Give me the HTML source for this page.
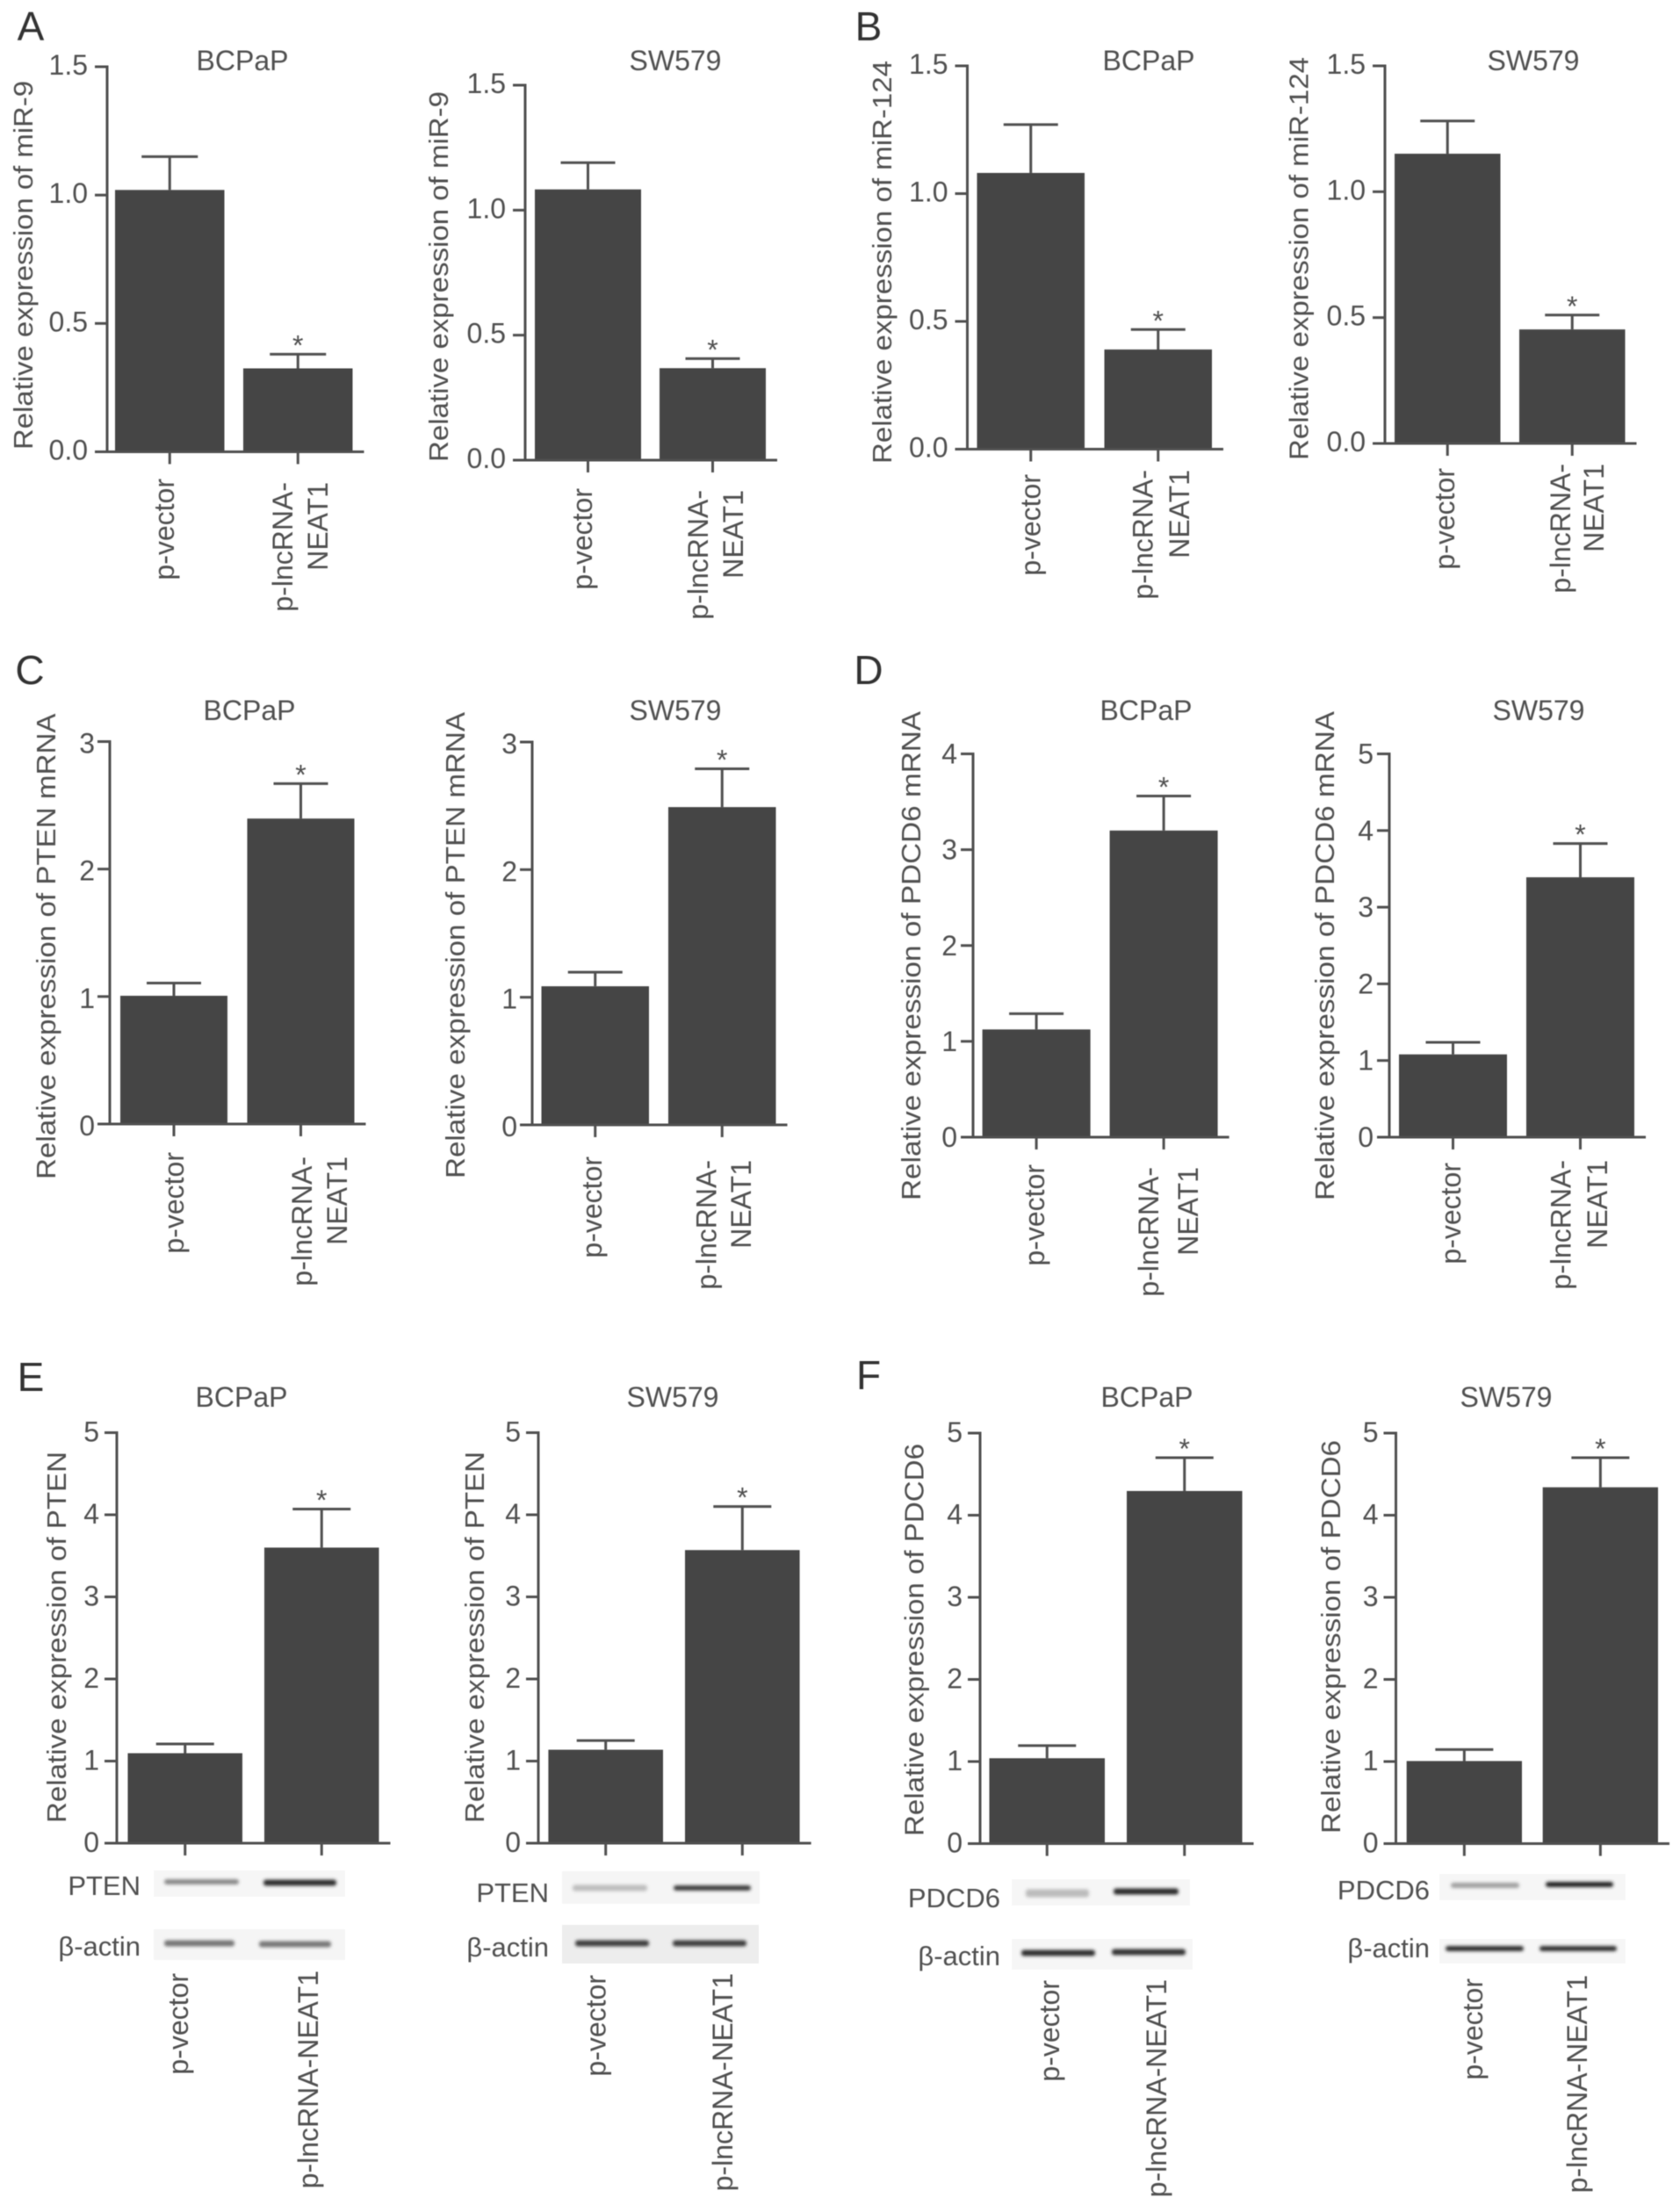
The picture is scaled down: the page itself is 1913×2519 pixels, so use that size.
<!DOCTYPE html>
<html lang="en">
<head>
<meta charset="utf-8">
<title>Relative expression bar charts</title>
<style>
html,body{margin:0;padding:0;background:#fff;}
body{width:1913px;height:2519px;overflow:hidden;}
svg{display:block;}
text{font-family:"Liberation Sans",sans-serif;fill:#505050;}
</style>
</head>
<body>
<svg id="figure" xmlns="http://www.w3.org/2000/svg" width="1913" height="2519" viewBox="0 0 1913 2519">
<defs>
<filter id="soft" x="-5%" y="-5%" width="110%" height="110%"><feGaussianBlur stdDeviation="0.55"/></filter>
<filter id="bandBlur" x="-10%" y="-80%" width="120%" height="260%"><feGaussianBlur stdDeviation="1.8"/></filter>
</defs>
<g id="root" filter="url(#soft)"></g>
</svg>
<script>
// ---- chart data ----
const twoLineCategories = [['p-vector'], ['p-lncRNA-', 'NEAT1']];
const oneLineCategories = [['p-vector'], ['p-lncRNA-NEAT1']];

const a1Ticks = [0, 0.5, 1, 1.5];
const a1TickLabels = ['0.0', '0.5', '1.0', '1.5'];
const a1Values = [1.02, 0.325];
const a1ErrorTops = [1.15, 0.38];

const a2Ticks = [0, 0.5, 1, 1.5];
const a2TickLabels = ['0.0', '0.5', '1.0', '1.5'];
const a2Values = [1.083, 0.368];
const a2ErrorTops = [1.19, 0.406];

const b1Ticks = [0, 0.5, 1, 1.5];
const b1TickLabels = ['0.0', '0.5', '1.0', '1.5'];
const b1Values = [1.081, 0.39];
const b1ErrorTops = [1.27, 0.468];

const b2Ticks = [0, 0.5, 1, 1.5];
const b2TickLabels = ['0.0', '0.5', '1.0', '1.5'];
const b2Values = [1.151, 0.453];
const b2ErrorTops = [1.281, 0.51];

const c1Ticks = [0, 1, 2, 3];
const c1TickLabels = ['0', '1', '2', '3'];
const c1Values = [1.006, 2.396];
const c1ErrorTops = [1.106, 2.67];

const c2Ticks = [0, 1, 2, 3];
const c2TickLabels = ['0', '1', '2', '3'];
const c2Values = [1.086, 2.49];
const c2ErrorTops = [1.196, 2.79];

const d1Ticks = [0, 1, 2, 3, 4];
const d1TickLabels = ['0', '1', '2', '3', '4'];
const d1Values = [1.124, 3.2];
const d1ErrorTops = [1.289, 3.56];

const d2Ticks = [0, 1, 2, 3, 4, 5];
const d2TickLabels = ['0', '1', '2', '3', '4', '5'];
const d2Values = [1.08, 3.39];
const d2ErrorTops = [1.237, 3.83];

const e1Ticks = [0, 1, 2, 3, 4, 5];
const e1TickLabels = ['0', '1', '2', '3', '4', '5'];
const e1Values = [1.096, 3.6];
const e1ErrorTops = [1.208, 4.07];

const e2Ticks = [0, 1, 2, 3, 4, 5];
const e2TickLabels = ['0', '1', '2', '3', '4', '5'];
const e2Values = [1.138, 3.57];
const e2ErrorTops = [1.25, 4.1];

const f1Ticks = [0, 1, 2, 3, 4, 5];
const f1TickLabels = ['0', '1', '2', '3', '4', '5'];
const f1Values = [1.04, 4.295];
const f1ErrorTops = [1.194, 4.7];

const f2Ticks = [0, 1, 2, 3, 4, 5];
const f2TickLabels = ['0', '1', '2', '3', '4', '5'];
const f2Values = [1.006, 4.34];
const f2ErrorTops = [1.146, 4.7];

const significance = [false, true];

// ---- layout (separate from the data) ----
const panelLetters = [
  {t:'A', x:35, y:46}, {t:'B', x:989, y:46}, {t:'C', x:34, y:779},
  {t:'D', x:989, y:779}, {t:'E', x:35, y:1584}, {t:'F', x:989, y:1582}
];

const tickLabelNudge = {a:[-22,-2], b:[-22,-2], c:[-17,2], d:[-18,0], e:[-20,-1], f:[-20,-1]};

const plots = [
 {id:'a1', title:'BCPaP', tx:276, ty:80, yTitle:'Relative expression of miR-9', ytx:37, ytTop:92, ytBot:512,
  ticks:a1Ticks, labels:a1TickLabels, values:a1Values, errs:a1ErrorTops, cats:twoLineCategories,
  axisX:122, y0:514.5, yTop:76, barL:131, barW:124.5, gap:21.5, capHalf:32, catPos:[[190,545],[325,549,362]]},
 {id:'a2', title:'SW579', tx:769, ty:80, yTitle:'Relative expression of miR-9', ytx:510, ytTop:104, ytBot:526,
  ticks:a2Ticks, labels:a2TickLabels, values:a2Values, errs:a2ErrorTops, cats:twoLineCategories,
  axisX:598, y0:524, yTop:97, barL:609, barW:121, gap:21, capHalf:31, catPos:[[666,556],[798,558,835]]},
 {id:'b1', title:'BCPaP', tx:1308, ty:80, yTitle:'Relative expression of miR-124', ytx:1015, ytTop:69, ytBot:528,
  ticks:b1Ticks, labels:b1TickLabels, values:b1Values, errs:b1ErrorTops, cats:twoLineCategories,
  axisX:1101.5, y0:511.5, yTop:75, barL:1112.5, barW:122.5, gap:22.5, capHalf:31, catPos:[[1176.5,540],[1304.6,535,1343]]},
 {id:'b2', title:'SW579', tx:1746, ty:80, yTitle:'Relative expression of miR-124', ytx:1489.5, ytTop:65, ytBot:524,
  ticks:b2Ticks, labels:b2TickLabels, values:b2Values, errs:b2ErrorTops, cats:twoLineCategories,
  axisX:1577, y0:505, yTop:75, barL:1588, barW:120.5, gap:21.5, capHalf:31, catPos:[[1648,533],[1780,528,1815]]},
 {id:'c1', title:'BCPaP', tx:284, ty:820, yTitle:'Relative expression of PTEN mRNA', ytx:63, ytTop:812.5, ytBot:1343,
  ticks:c1Ticks, labels:c1TickLabels, values:c1Values, errs:c1ErrorTops, cats:twoLineCategories,
  axisX:125, y0:1280, yTop:844.5, barL:137, barW:122, gap:22.5, capHalf:31, catPos:[[201,1312],[347,1317,384]]},
 {id:'c2', title:'SW579', tx:769, ty:820, yTitle:'Relative expression of PTEN mRNA', ytx:529, ytTop:811, ytBot:1342,
  ticks:c2Ticks, labels:c2TickLabels, values:c2Values, errs:c2ErrorTops, cats:twoLineCategories,
  axisX:606, y0:1281, yTop:845, barL:616.5, barW:122.5, gap:22, capHalf:31, catPos:[[677,1317],[807.4,1321,844]]},
 {id:'d1', title:'BCPaP', tx:1305, ty:820, yTitle:'Relative expression of PDCD6 mRNA', ytx:1048, ytTop:810, ytBot:1367,
  ticks:d1Ticks, labels:d1TickLabels, values:d1Values, errs:d1ErrorTops, cats:twoLineCategories,
  axisX:1108, y0:1295, yTop:858.5, barL:1118.6, barW:123, gap:22, capHalf:31, catPos:[[1181,1326],[1311,1329,1353]]},
 {id:'d2', title:'SW579', tx:1752, ty:820, yTitle:'Relative expression of PDCD6 mRNA', ytx:1519, ytTop:810, ytBot:1367,
  ticks:d2Ticks, labels:d2TickLabels, values:d2Values, errs:d2ErrorTops, cats:twoLineCategories,
  axisX:1582, y0:1295, yTop:858.5, barL:1593, barW:123, gap:22, capHalf:31, catPos:[[1655,1324],[1780.5,1321,1819]]},
 {id:'e1', title:'BCPaP', tx:275, ty:1602, yTitle:'Relative expression of PTEN', ytx:75, ytTop:1653, ytBot:2076,
  ticks:e1Ticks, labels:e1TickLabels, values:e1Values, errs:e1ErrorTops, cats:oneLineCategories,
  axisX:133, y0:2099, yTop:1631.5, barL:145.5, barW:130.5, gap:25, capHalf:33, catPos:[[206,2247],[354,2244]]},
 {id:'e2', title:'SW579', tx:766, ty:1602, yTitle:'Relative expression of PTEN', ytx:551, ytTop:1653, ytBot:2076,
  ticks:e2Ticks, labels:e2TickLabels, values:e2Values, errs:e2ErrorTops, cats:oneLineCategories,
  axisX:613, y0:2099, yTop:1631.5, barL:624.4, barW:130.6, gap:25, capHalf:33, catPos:[[681.5,2249],[826,2247]]},
 {id:'f1', title:'BCPaP', tx:1306, ty:1602, yTitle:'Relative expression of PDCD6', ytx:1051.5, ytTop:1644, ytBot:2091,
  ticks:f1Ticks, labels:f1TickLabels, values:f1Values, errs:f1ErrorTops, cats:oneLineCategories,
  axisX:1116, y0:2099.5, yTop:1632, barL:1126.5, barW:131.5, gap:25, capHalf:33, catPos:[[1198,2255],[1320,2254]]},
 {id:'f2', title:'SW579', tx:1715, ty:1602, yTitle:'Relative expression of PDCD6', ytx:1526, ytTop:1640, ytBot:2088,
  ticks:f2Ticks, labels:f2TickLabels, values:f2Values, errs:f2ErrorTops, cats:oneLineCategories,
  axisX:1589.5, y0:2099.5, yTop:1632, barL:1601.7, barW:131.3, gap:23.7, capHalf:33, catPos:[[1680,2253],[1799,2249]]}
];

const blots = [
 {name:'pten-e1', label:'PTEN', lx:160, ly:2158, x:175, y:2130, w:218, h:30, bg:'#f6f6f6',
  bands:[[187,272,2143,'#8a8a8a',6],[300,383,2144,'#2f2f2f',7]]},
 {name:'actin-e1', label:'β-actin', lx:160, ly:2227, x:175, y:2197, w:218, h:35, bg:'#f5f5f5',
  bands:[[187,267,2213,'#767676',7],[295,377,2214,'#787878',7]]},
 {name:'pten-e2', label:'PTEN', lx:625, ly:2166, x:640, y:2131, w:225, h:37, bg:'#f5f5f5',
  bands:[[652,737,2150,'#bdbdbd',7],[767,855,2150,'#3e3e3e',6]]},
 {name:'actin-e2', label:'β-actin', lx:625, ly:2228, x:640, y:2192, w:224, h:44, bg:'#ededed',
  bands:[[655,739,2213,'#3c3c3c',7],[766,850,2213,'#3e3e3e',7]]},
 {name:'pdcd6-f1', label:'PDCD6', lx:1139, ly:2172, x:1152, y:2140, w:203, h:30, bg:'#f6f6f6',
  bands:[[1168,1240,2156,'#bcbcbc',9],[1268,1342,2154,'#2a2a2a',7]]},
 {name:'actin-f1', label:'β-actin', lx:1139, ly:2238, x:1152, y:2208, w:206, h:35, bg:'#f6f6f6',
  bands:[[1163,1247,2224,'#2e2e2e',7],[1266,1350,2223,'#303030',7]]},
 {name:'pdcd6-f2', label:'PDCD6', lx:1628, ly:2163, x:1639, y:2134, w:212, h:30, bg:'#f6f6f6',
  bands:[[1652,1730,2147,'#a0a0a0',6],[1760,1837,2146,'#242424',6]]},
 {name:'actin-f2', label:'β-actin', lx:1628, ly:2229, x:1639, y:2208, w:212, h:28, bg:'#f6f6f6',
  bands:[[1646,1735,2219,'#2e2e2e',6],[1753,1841,2219,'#303030',6]]}
];

// ---- drawing ----
const NS = 'http://www.w3.org/2000/svg';
const root = document.getElementById('root');
const INK = '#505050';
const BAR = '#444444';

function make(parent, tag, attrs, text) {
  const el = document.createElementNS(NS, tag);
  for (const k in attrs) el.setAttribute(k, attrs[k]);
  if (text !== undefined) el.textContent = text;
  parent.appendChild(el);
  return el;
}

function line(parent, x1, y1, x2, y2) {
  return make(parent, 'line', {x1:x1, y1:y1, x2:x2, y2:y2, stroke:INK, 'stroke-width':3});
}

function drawPlot(p) {
  const g = make(root, 'g', {});
  
  

  const maxTick = p.ticks[p.ticks.length - 1];
  const yScale = v => p.y0 - (v / maxTick) * (p.y0 - p.yTop);
  const xBand = i => p.barL + i * (p.barW + p.gap);
  const xCenter = i => xBand(i) + p.barW / 2;
  const nudge = tickLabelNudge[p.id[0]];

  const title = make(g, 'text', {x:p.tx, y:p.ty, 'font-size':32, 'text-anchor':'middle'}, p.title);
  
  

  const yTitleMid = (p.ytTop + p.ytBot) / 2;
  const yTitle = make(g, 'text', {
    transform:'translate(' + p.ytx + ',' + yTitleMid + ') rotate(-90)',
    'font-size':31, 'text-anchor':'middle',
    textLength:p.ytBot - p.ytTop, lengthAdjust:'spacingAndGlyphs'
  }, p.yTitle);
  
  

  p.values.forEach((v, i) => {
    const top = yScale(v);
    const errY = yScale(p.errs[i]);
    const cx = xCenter(i);

    const stem = line(g, cx, top, cx, errY);
    
    

    const cap = line(g, cx - p.capHalf, errY, cx + p.capHalf, errY);
    
    

    const bar = make(g, 'rect', {x:xBand(i), y:top, width:p.barW, height:p.y0 - top, fill:BAR});
    
    

    if (significance[i]) {
      const star = make(g, 'text', {x:cx, y:errY + 1, 'font-size':32, 'text-anchor':'middle'}, '*');
      
      
    }

    const xt = line(g, cx, p.y0, cx, p.y0 + 14);
    
    

    const pos = p.catPos[i];
    p.cats[i].forEach((s, j) => {
      const centre = j === 0 ? pos[0] : pos[2];
      const bx = centre + (s === 'NEAT1' ? 11 : 8);
      const lab = make(g, 'text', {
        transform:'translate(' + bx + ',' + pos[1] + ') rotate(-90)',
        'font-size':32, 'text-anchor':'end'
      }, s);
      
      
    });
  });

  const yAxis = line(g, p.axisX, p.yTop - 1.5, p.axisX, p.y0);
  
  

  const xAxis = line(g, p.axisX - 14, p.y0, xBand(1) + p.barW + 13, p.y0);
  
  

  p.ticks.forEach((t, i) => {
    const y = yScale(t);
    const tick = line(g, p.axisX - 14, y, p.axisX, y);
    
    

    const lab = make(g, 'text', {x:p.axisX + nudge[0], y:y + 11 + nudge[1], 'font-size':32, 'text-anchor':'end'}, p.labels[i]);
    
    
  });
}

function drawBlot(b) {
  const g = make(root, 'g', {});
  
  

  const lab = make(g, 'text', {x:b.lx, y:b.ly, 'font-size':31, 'text-anchor':'end'}, b.label);
  
  

  const bg = make(g, 'rect', {x:b.x, y:b.y, width:b.w, height:b.h, fill:b.bg});
  
  

  b.bands.forEach(d => {
    const band = make(g, 'rect', {
      x:d[0], y:d[2] - d[4] / 2, width:d[1] - d[0], height:d[4], rx:3,
      fill:d[3], filter:'url(#bandBlur)'
    });
    
    
  });
}

panelLetters.forEach(l => {
  const t = make(root, 'text', {x:l.x, y:l.y, 'font-size':46, 'text-anchor':'middle'}, l.t);
  t.style.fill = '#333';
  
  
});
plots.forEach(drawPlot);
blots.forEach(drawBlot);
</script>
</body>
</html>
